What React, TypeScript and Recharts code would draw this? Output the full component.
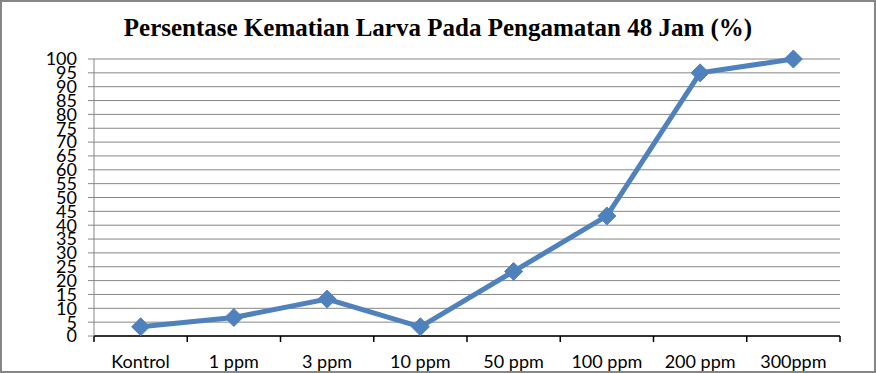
import { LineChart, Line, XAxis, YAxis, CartesianGrid } from "recharts";

const categories = ["Kontrol", "1 ppm", "3 ppm", "10 ppm", "50 ppm", "100 ppm", "200 ppm", "300ppm"];
const mortality = [3.33, 6.67, 13.33, 3.33, 23.33, 43.33, 95, 100];
const yTicks = [0, 5, 10, 15, 20, 25, 30, 35, 40, 45, 50, 55, 60, 65, 70, 75, 80, 85, 90, 95, 100];
const boundaryTicks = [0, 1, 2, 3, 4, 5, 6, 7, 8];

// categories sit in the middle of each slot, tick marks fall on the slot edges
const data = categories.map((name, i) => ({ name, pos: i + 0.5, value: mortality[i] }));

const Diamond = (props: any) => {
	const { cx, cy } = props;
	if (cx == null || cy == null) return null;
	const r = 9;
	return (
		<polygon
			points={`${cx},${cy - r} ${cx + r},${cy} ${cx},${cy + r} ${cx - r},${cy}`}
			fill="#4F81BD"
			stroke="#4F81BD"
		/>
	);
};

const CategoryTick = (props: any) => {
	const { x, y, payload } = props;
	const label = categories[payload.value];
	if (!label) return null;
	// half a slot: (840 - 94) / 8 / 2
	return (
		<text x={x} y={y} dx={46.6} dy="0.71em" textAnchor="middle" fill="#000" fontSize={18}>
			{label}
		</text>
	);
};

export default function App() {
	return (
		<div
			style={{
				position: "absolute",
				top: 0,
				left: 0,
				width: 876,
				height: 373,
				background: "#fff",
				overflow: "hidden",
			}}
		>
			<div
				style={{
					position: "absolute",
					top: 14,
					left: 0,
					width: 876,
					textAlign: "center",
					fontFamily: "'Liberation Serif', 'Times New Roman', serif",
					fontWeight: "bold",
					fontSize: 25,
					color: "#000",
				}}
			>
				Persentase Kematian Larva Pada Pengamatan 48 Jam (%)
			</div>
			<LineChart
				width={876}
				height={373}
				data={data}
				margin={{ top: 59, right: 36, left: 0, bottom: 0 }}
				style={{ fontFamily: "Lato, 'Open Sans', sans-serif" }}
			>
				<CartesianGrid vertical={false} stroke="#868686" strokeWidth={1} />
				<XAxis
					dataKey="pos"
					type="number"
					domain={[0, 8]}
					ticks={boundaryTicks}
					interval={0}
					height={37}
					axisLine={{ stroke: "#000", strokeWidth: 1.5 }}
					tickLine={{ stroke: "#000", strokeWidth: 1.5 }}
					tickSize={6}
					tickMargin={13}
					tick={<CategoryTick />}
					allowDataOverflow
				/>
				<YAxis
					width={94}
					domain={[0, 100]}
					ticks={yTicks}
					interval={0}
					axisLine={{ stroke: "#868686" }}
					tickLine={{ stroke: "#868686" }}
					tickSize={6}
					tickMargin={11}
					tick={{ fill: "#000", fontSize: 18 }}
				/>
				<Line
					type="linear"
					dataKey="value"
					stroke="#4F81BD"
					strokeWidth={5}
					dot={<Diamond />}
					activeDot={false}
					isAnimationActive={false}
				/>
			</LineChart>
			<div
				style={{
					position: "absolute",
					top: 0,
					left: 0,
					width: 876,
					height: 373,
					boxSizing: "border-box",
					border: "2px solid #868686",
					pointerEvents: "none",
				}}
			/>
		</div>
	);
}
